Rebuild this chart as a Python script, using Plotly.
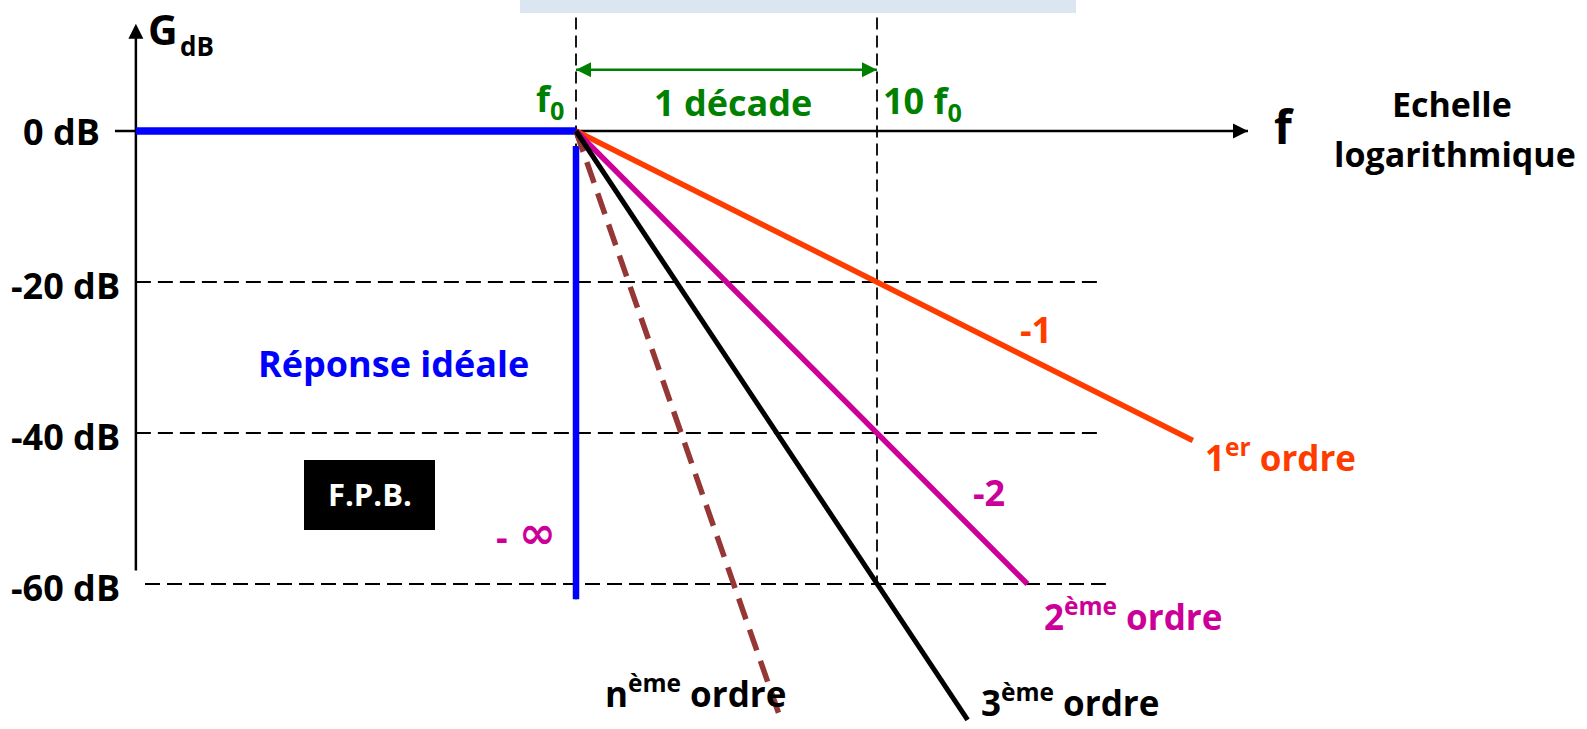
import numpy as np
import plotly.graph_objects as go

W, H = 1587, 729

# ---------------- data ----------------
f0 = 1.0                      # cut-off frequency (normalised)
f_10 = 10.0                   # one decade above
gain_ticks_db = [0, -20, -40, -60]
gain_tick_labels = ["0 dB", "-20 dB", "-40 dB", "-60 dB"]

# ideal low-pass (F.P.B.) response
ideal_flat_f = [0.0345, 1.0]
ideal_flat_db = [0, 0]
ideal_drop_f = [1.0, 1.0]
ideal_drop_db = [-2, -62]

# asymptotes of the different orders (start at f0, 0 dB)
order_labels = ["1<sup>er</sup> ordre", "2<sup>ème</sup> ordre",
                "3<sup>ème</sup> ordre", "n<sup>ème</sup> ordre"]
order_start_f = [1.0, 1.0, 1.0, 1.0]
order_start_db = [0, 0, 0, 0]
order_end_f = [112.0, 31.6, 20.0, 4.73]
order_end_db = [-41.0, -60.0, -78.0, -77.3]
slope_labels = ["-1", "-2"]

# axes and guides
axis_f_min = 0.0345
axis_tick_f = 0.0294
axis_f_arrow = 170.8
axis_db_top = 14.2
axis_db_bottom = -58.2
grid_db = [-20, -40, -60]
grid_f_start = [0.0345, 0.0345, 0.037]
grid_f_end = [54.2, 54.2, 57.6]
guide_f = [1.0, 10.0]
guide_db_top = [17.4, 17.4]
guide_db_bottom = [-62.0, -60.0]
decade_arrow_db = 8.1

# ---------------- styles ----------------
FONT = "Open Sans"
C_ORANGE = "#ff3c00"
C_MAGENTA = "#cc0099"
C_BLACK = "#000000"
C_BROWN = "#953735"
C_BLUE = "#0000ff"
C_GREEN = "#008000"
order_colors = [C_ORANGE, C_MAGENTA, C_BLACK, C_BROWN]
order_widths = [5.5, 5.5, 5, 5.5]
order_dash = ["solid", "solid", "solid", "22px,11px"]

fig = go.Figure()

def line(xs, ys, color, width, dash="solid"):
    fig.add_trace(go.Scatter(x=xs, y=ys, mode="lines",
                             line=dict(color=color, width=width, dash=dash),
                             hoverinfo="skip", showlegend=False))

# grid dashed lines
for d, fs, fe in zip(grid_db, grid_f_start, grid_f_end):
    line([fs, fe], [d, d], "black", 2, "15px,7px")
# vertical guides
for f, t, b in zip(guide_f, guide_db_top, guide_db_bottom):
    line([f, f], [t, b], "black", 1.8, "12px,6px")

# axes
line([axis_tick_f, axis_f_arrow], [0, 0], "black", 2.5)
line([axis_f_min, axis_f_min], [axis_db_bottom, axis_db_top - 1], "black", 2.5)
fig.add_trace(go.Scatter(x=[axis_f_min], y=[axis_db_top], mode="markers",
                         marker=dict(symbol="arrow-up", size=15, color="black"),
                         hoverinfo="skip", showlegend=False))
fig.add_trace(go.Scatter(x=[axis_f_arrow], y=[0], mode="markers",
                         marker=dict(symbol="arrow-right", size=15, color="black"),
                         hoverinfo="skip", showlegend=False))

# ideal response
line(ideal_flat_f, ideal_flat_db, C_BLUE, 7.5)
line(ideal_drop_f, ideal_drop_db, C_BLUE, 6.5)

# orders
for i in [0, 1, 3, 2]:
    line([order_start_f[i], order_end_f[i]], [order_start_db[i], order_end_db[i]],
         order_colors[i], order_widths[i], order_dash[i])

# decade arrow
line([f0, f_10], [decade_arrow_db, decade_arrow_db], C_GREEN, 2.5)
fig.add_trace(go.Scatter(x=[f0, f_10], y=[decade_arrow_db, decade_arrow_db], mode="markers",
                         marker=dict(symbol=["arrow-left", "arrow-right"], size=15, color=C_GREEN),
                         hoverinfo="skip", showlegend=False))

# ---------------- text ----------------
def px(x):
    return x / W

def py(y):
    return 1 - y / H

def txt(text, x, y, size, color, xanchor="center", yanchor="middle", family=FONT):
    fig.add_annotation(text=text, x=px(x), y=py(y), xref="paper", yref="paper",
                       showarrow=False, xanchor=xanchor, yanchor=yanchor,
                       font=dict(family=family, size=size, color=color, weight="bold"))

# y tick labels
for d, lab in zip(gain_ticks_db, gain_tick_labels):
    xr = 102 if d == 0 else 122
    fig.add_annotation(text=lab, x=px(xr), y=d, xref="paper", yref="y",
                       showarrow=False, xanchor="right", yanchor="middle",
                       yshift=0 if d == 0 else -3,
                       font=dict(family=FONT, size=36, color="black", weight="bold"))

txt("G", 146, 29, 41, "black", xanchor="left")
txt("dB", 178, 46, 26, "black", xanchor="left")
txt("f", 1284, 126, 46, "black")
txt("Echelle", 1452, 104, 34, "black")
txt("logarithmique", 1455, 154, 34, "black")

txt("f<sub>0</sub>", 550, 100, 36, C_GREEN)
txt("1 décade", 733, 103, 36, C_GREEN)
txt("10 f<sub>0</sub>", 881, 103, 36, C_GREEN, xanchor="left")

txt("Réponse idéale", 393, 363, 36, C_BLUE)
fig.add_shape(type="rect", xref="paper", yref="paper", x0=px(304), x1=px(435),
              y0=py(530), y1=py(460), fillcolor="black", line=dict(width=0))
txt("F.P.B.", 370, 494, 31, "white")
txt("-", 502, 536, 36, C_MAGENTA)
txt("∞", 537, 532, 44, C_MAGENTA, family="DejaVu Sans")

txt(slope_labels[0], 1036, 330, 36, C_ORANGE)
txt(slope_labels[1], 989, 492, 36, C_MAGENTA)

txt(order_labels[0], 1203, 455, 35, C_ORANGE, xanchor="left")
txt(order_labels[1], 1042, 614, 35, C_MAGENTA, xanchor="left")
txt(order_labels[2], 979, 700, 35, C_BLACK, xanchor="left")
txt(order_labels[3], 603, 691, 35, C_BLACK, xanchor="left")

# light blue band at top
fig.add_shape(type="rect", xref="paper", yref="paper", x0=px(520), x1=px(1076),
              y0=py(13), y1=1, fillcolor="#dce6f2", line=dict(width=0), layer="above")

fig.update_layout(
    width=W, height=H, margin=dict(l=0, r=0, t=0, b=0),
    paper_bgcolor="white", plot_bgcolor="white",
    xaxis=dict(type="log", range=[-1.9136, 3.3588], visible=False, fixedrange=True),
    yaxis=dict(range=[-79.2, 17.35], visible=False, fixedrange=True),
    showlegend=False,
)

fig.write_html("out.html", config={"displayModeBar": False},
               post_script="document.body.style.margin='0';document.body.style.overflow='hidden';")
